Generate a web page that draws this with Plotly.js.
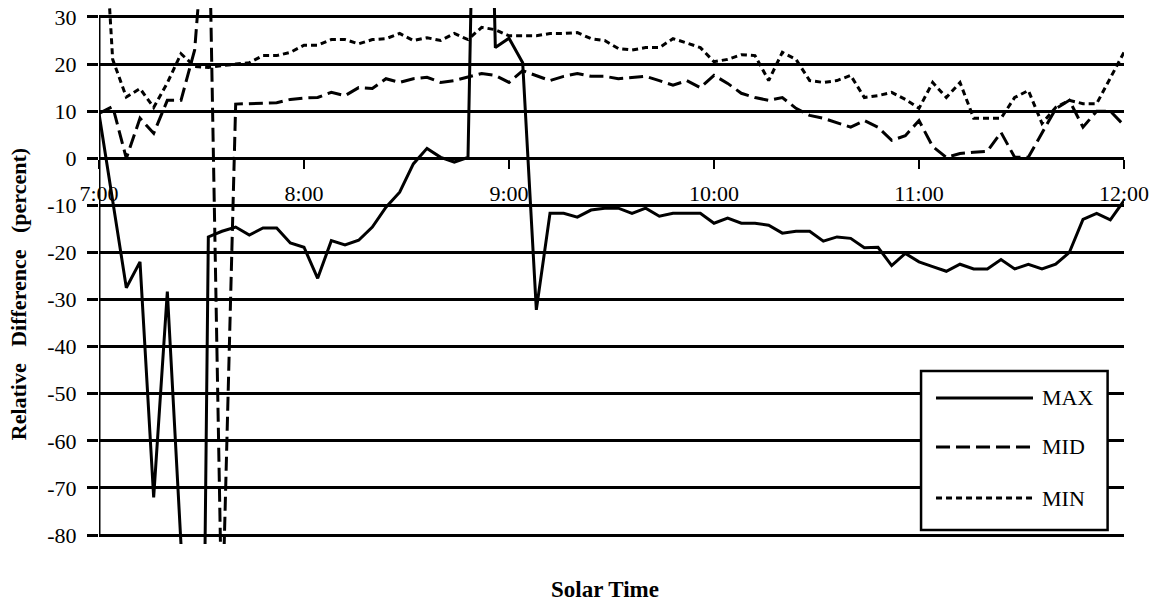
<!DOCTYPE html>
<html>
<head>
<meta charset="utf-8">
<script src="https://cdn.plot.ly/plotly-3.0.1.min.js"></script>
<style>
  html, body { margin: 0; padding: 0; background: #fff; }
  #chart { width: 1162px; height: 603px; }
</style>
</head>
<body>
<div id="chart"></div>
<script>
// Relative difference of the three sensors, sampled every 4 minutes (solar time)
const DAY = '2000-01-01';
const startHour = 7;
const stepMinutes = 4;
const sampleCount = 76;

const seriesNames = ['MAX', 'MID', 'MIN'];

const maxValues = [
  9.5, -9, -27.5, -22, -72, -28.3, -82, -290, -16.7, -15.5,
  -14.6, -16.3, -14.8, -14.8, -18, -18.9, -25.5, -17.5, -18.4, -17.4,
  -14.6, -10.4, -7.2, -1.2, 2.1, 0.2, -0.8, 0.2, 150, 23.5,
  25.5, 20.3, -32.2, -11.7, -11.7, -12.5, -11, -10.6, -10.6, -11.7,
  -10.6, -12.3, -11.7, -11.7, -11.7, -13.8, -12.7, -13.8, -13.8, -14.2,
  -15.9, -15.5, -15.5, -17.6, -16.7, -17, -19, -18.9, -22.8, -20.2,
  -22, -23, -24, -22.5, -23.5, -23.5, -21.5, -23.5, -22.5, -23.5,
  -22.5, -20, -13, -11.7, -13.1, -9
];

const midValues = [
  9.5, 11, 0, 8.5, 5.3, 12.3, 12.3, 23, 60, -100,
  11.5, 11.6, 11.6, 11.8, 12.5, 12.8, 12.9, 14, 13.3, 15,
  14.8, 16.9, 16.1, 16.9, 17.2, 16.1, 16.5, 17.2, 18, 17.6,
  16.1, 18.6, 17.6, 16.5, 17.4, 18, 17.4, 17.4, 16.9, 17.2,
  17.4, 16.5, 15.5, 16.5, 15, 17.6, 15.9, 13.8, 12.9, 12.3,
  12.9, 10.6, 9.1, 8.5, 7.5, 6.6, 8, 6.6, 3.8, 4.8,
  8, 2.5, 0.2, 1, 1.3, 1.5, 5.5, 0.2, 0.2, 5.3,
  10.5, 12.3, 6.6, 10, 10, 7
];

const minValues = [
  70, 21, 13, 14.8, 10.8, 16, 22.2, 19.5, 19.3, 19.7,
  20, 20.3, 21.8, 21.8, 22.5, 24, 24, 25.2, 25.2, 24.3,
  25.2, 25.4, 26.5, 25, 25.6, 25, 26.5, 25.2, 27.8, 27.3,
  26, 26, 26, 26.5, 26.5, 26.7, 25.4, 25, 23.3, 23,
  23.5, 23.5, 25.4, 24.5, 23.5, 20.5, 21, 22, 21.8, 16.5,
  22.5, 21, 16.5, 16.1, 16.5, 17.6, 12.9, 13.3, 14, 12.5,
  10.6, 16.1, 12.9, 16.1, 8.5, 8.5, 8.5, 12.9, 14.4, 7.4,
  10.8, 12.3, 11.6, 11.6, 17, 22.5
];

const hourLabels = ['7:00', '8:00', '9:00', '10:00', '11:00', '12:00'];
const yTickVals = [-80, -70, -60, -50, -40, -30, -20, -10, 0, 10, 20, 30];
const yTickLabels = ['-80', '-70', '-60', '-50', '-40', '-30', '-20', '-10', '0', '10', '20', '30'];
const xTitle = 'Solar Time';
const yTitle = 'Relative\u00a0\u00a0 Difference\u00a0\u00a0 (percent)';

function stamp(totalMinutes) {
  const h = Math.floor(totalMinutes / 60);
  const m = totalMinutes % 60;
  return DAY + ' ' + String(h).padStart(2, '0') + ':' + String(m).padStart(2, '0') + ':00';
}

const times = [];
for (let i = 0; i < sampleCount; i++) times.push(stamp(startHour * 60 + i * stepMinutes));
const hourTicks = hourLabels.map(lbl => {
  const [h, m] = lbl.split(':').map(Number);
  return stamp(h * 60 + m);
});
const xStart = hourTicks[0];
const xEnd = hourTicks[hourTicks.length - 1];

// y range leaves a little room past -80 and 30 so steep excursions run just past the outer grid lines
const yRange = [-81.91, 31.91];
const zeroPos = (0 - yRange[0]) / (yRange[1] - yRange[0]);

const styles = [
  { width: 3, dash: 'solid' },
  { width: 3, dash: '14px,6px' },
  { width: 3, dash: '6px,4px' }
];
const valueSets = [maxValues, midValues, minValues];

const traces = valueSets.map((vals, k) => ({
  type: 'scatter',
  mode: 'lines',
  name: seriesNames[k],
  x: times,
  y: vals,
  line: { color: 'black', width: styles[k].width, dash: styles[k].dash, shape: 'linear' },
  hoverinfo: 'skip'
}));

// hand-drawn key in the lower right of the plot area
const key = { x0: 0.802, x1: 0.984, y0: 0.0261, y1: 0.3228, lineX0: 0.8166, lineX1: 0.9112, textX: 0.918, rows: [0.2724, 0.181, 0.0858] };

const shapes = [
  { type: 'line', xref: 'x', yref: 'y', x0: xStart, x1: xStart, y0: -80, y1: 30, line: { color: 'black', width: 3 } },
  { type: 'rect', xref: 'paper', yref: 'paper', x0: key.x0, x1: key.x1, y0: key.y0, y1: key.y1,
    fillcolor: 'white', line: { color: 'black', width: 2.5 }, layer: 'above' }
];
const annotations = [
  { xref: 'paper', yref: 'paper', x: 0.494, y: -0.085, text: '<b>' + xTitle + '</b>', showarrow: false,
    xanchor: 'center', yanchor: 'middle', font: { size: 23, color: 'black' } },
  { xref: 'paper', yref: 'paper', x: -0.079, y: 0.466, text: '<b>' + yTitle + '</b>', showarrow: false, textangle: -90,
    xanchor: 'center', yanchor: 'middle', font: { size: 22, color: 'black' } }
];
seriesNames.forEach((name, k) => {
  shapes.push({ type: 'line', xref: 'paper', yref: 'paper', x0: key.lineX0, x1: key.lineX1, y0: key.rows[k], y1: key.rows[k],
    line: { color: 'black', width: styles[k].width, dash: styles[k].dash }, layer: 'above' });
  annotations.push({ xref: 'paper', yref: 'paper', x: key.textX, y: key.rows[k], text: name, showarrow: false,
    xanchor: 'left', yanchor: 'middle', font: { size: 22, color: 'black' } });
});

const layout = {
  width: 1162,
  height: 603,
  margin: { l: 99, r: 38, t: 8, b: 59 },
  paper_bgcolor: 'white',
  plot_bgcolor: 'white',
  showlegend: false,
  font: { family: '"Liberation Serif", "Times New Roman", serif', color: 'black', size: 22 },
  xaxis: {
    type: 'date', range: [xStart, xEnd], fixedrange: true,
    anchor: 'free', position: zeroPos,
    tickmode: 'array', tickvals: hourTicks, ticktext: hourLabels,
    ticks: 'outside', ticklen: 9, tickwidth: 2.5, tickcolor: 'black', ticklabelstandoff: 5,
    showline: true, linewidth: 3, linecolor: 'black',
    showgrid: false, zeroline: false, tickfont: { size: 22 }
  },
  yaxis: {
    range: yRange, fixedrange: true,
    tickmode: 'array', tickvals: yTickVals, ticktext: yTickLabels,
    ticks: 'outside', ticklen: 11, tickwidth: 3, tickcolor: 'black', ticklabelstandoff: 6,
    showgrid: true, gridcolor: 'black', gridwidth: 3,
    zeroline: false, showline: false, tickfont: { size: 22 }
  },
  shapes: shapes,
  annotations: annotations
};

Plotly.newPlot('chart', traces, layout, { staticPlot: true, displayModeBar: false });
</script>
</body>
</html>
